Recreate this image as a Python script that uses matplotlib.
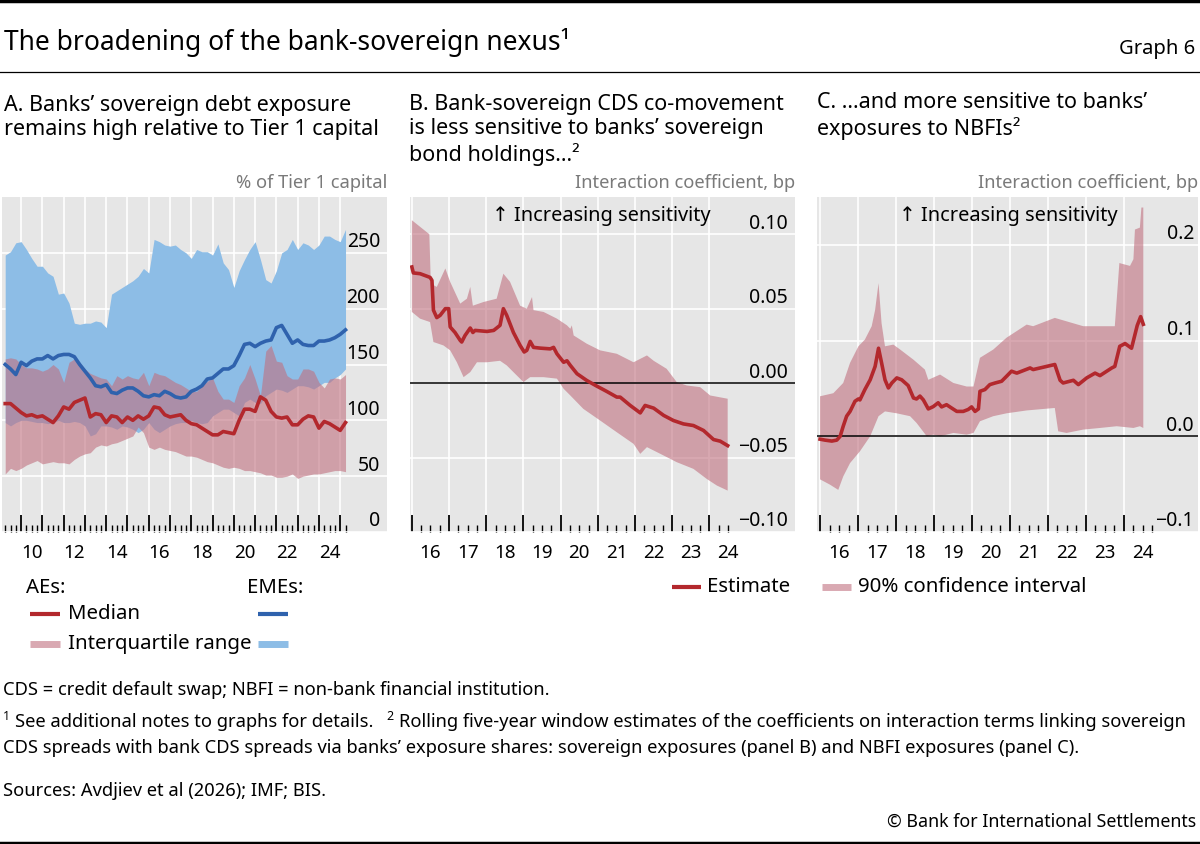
import numpy as np
import matplotlib
matplotlib.use("Agg")
import matplotlib.pyplot as plt
from matplotlib import transforms
from matplotlib.lines import Line2D

plt.rcParams['font.family'] = ['Noto Sans', 'DejaVu Sans']

# ---------------------------------------------------------------------------
# data
# ---------------------------------------------------------------------------
# panel A: quarterly, 2009Q2 .. 2025Q2 (decimal years)
a_dates = 2009.25 + 0.25 * np.arange(65)
ae_median = [115, 115, 111, 107, 104, 105, 103, 104, 101, 98, 104, 112, 110, 116, 118, 120,
             103, 106, 105, 98, 104, 103, 98, 103, 100, 104, 101, 104, 112, 111, 105, 103,
             104, 105, 100, 97, 96, 93, 90, 87, 87, 90, 89, 88, 100, 110, 110, 108,
             121, 118, 108, 103, 102, 103, 96, 96, 101, 104, 103, 93, 99, 97, 94, 91, 98]
ae_q75 = [155, 156, 155, 150, 147, 147, 146, 144, 146, 150, 146, 134, 152, 155, 152, 146,
          142, 140, 138, 137, 131, 140, 137, 140, 138, 137, 143, 131, 143, 141, 140, 137,
          134, 132, 129, 126, 126, 131, 135, 138, 126, 119, 119, 116, 131, 138, 150, 137,
          122, 162, 167, 153, 152, 140, 137, 137, 146, 146, 144, 134, 129, 137, 138, 137, 141]
ae_q25 = [52, 57, 55, 57, 60, 62, 64, 61, 62, 63, 62, 62, 61, 65, 68, 70,
          71, 76, 78, 77, 79, 80, 82, 84, 86, 94, 89, 76, 74, 76, 74, 73,
          72, 70, 68, 68, 67, 65, 63, 62, 60, 58, 57, 58, 57, 55, 55, 54,
          53, 51, 51, 49, 49, 50, 52, 48, 50, 51, 52, 52, 53, 54, 55, 55, 54]
eme_median = [150, 146, 141, 152, 149, 153, 155, 155, 158, 155, 158, 159, 159, 157, 150, 144,
              138, 131, 130, 132, 125, 124, 127, 129, 129, 126, 122, 121, 123, 122, 126, 124,
              121, 120, 121, 126, 128, 131, 137, 138, 142, 146, 146, 149, 158, 168, 169, 166,
              169, 171, 172, 183, 185, 177, 169, 172, 168, 167, 167, 171, 171, 172, 174, 177, 181]
eme_q75 = [248, 251, 259, 260, 253, 245, 238, 238, 232, 229, 213, 214, 205, 187, 186, 187,
           187, 189, 188, 183, 213, 216, 219, 222, 225, 229, 236, 232, 262, 260, 257, 256,
           257, 253, 250, 245, 253, 251, 251, 248, 258, 241, 235, 219, 234, 244, 253, 260,
           244, 226, 223, 234, 250, 253, 262, 253, 259, 257, 253, 257, 265, 265, 262, 260, 271]
eme_q25 = [98, 95, 98, 100, 100, 99, 98, 98, 97, 98, 100, 98, 98, 99, 98, 95,
           86, 88, 95, 95, 94, 92, 95, 94, 92, 89, 92, 98, 92, 89, 92, 95,
           97, 98, 98, 100, 98, 97, 98, 104, 107, 110, 110, 107, 104, 116, 119, 116,
           115, 122, 125, 128, 127, 125, 128, 131, 131, 130, 128, 131, 134, 134, 138, 141, 146]

# panel B: sovereign-exposure interaction coefficient
b_est_x = [2016.00, 2016.04, 2016.22, 2016.49, 2016.54, 2016.58, 2016.67, 2016.76, 2016.90, 2016.99,
           2017.03, 2017.16, 2017.30, 2017.34, 2017.43, 2017.57, 2017.64, 2017.70, 2018.02, 2018.20,
           2018.37, 2018.46, 2018.55, 2018.73, 2018.91, 2019.02, 2019.09, 2019.18, 2019.27, 2019.45,
           2019.72, 2019.81, 2019.90, 2020.08, 2020.17, 2020.26, 2020.44, 2020.70, 2020.97, 2021.24,
           2021.51, 2021.60, 2021.87, 2022.14, 2022.27, 2022.50, 2022.77, 2023.03, 2023.30, 2023.57,
           2023.84, 2024.11, 2024.29, 2024.49]
b_est = [0.078, 0.074, 0.0735, 0.071, 0.069, 0.049, 0.044, 0.0455, 0.050, 0.050,
         0.0377, 0.034, 0.0287, 0.0276, 0.032, 0.037, 0.034, 0.0354, 0.0347, 0.0354,
         0.0388, 0.050, 0.0455, 0.034, 0.0253, 0.0209, 0.022, 0.028, 0.024, 0.0235,
         0.023, 0.024, 0.0197, 0.014, 0.015, 0.0119, 0.0063, 0.0018, -0.002, -0.0056,
         -0.0094, -0.0094, -0.015, -0.020, -0.015, -0.0168, -0.0217, -0.0251, -0.0274, -0.0285,
         -0.0318, -0.0379, -0.039, -0.042]
b_hi_x = [2016.00, 2016.22, 2016.47, 2016.51, 2016.67, 2016.90, 2017.03, 2017.30, 2017.48, 2017.57,
          2017.64, 2017.93, 2018.28, 2018.46, 2018.64, 2018.91, 2019.09, 2019.23, 2019.27, 2019.54,
          2019.90, 2020.17, 2020.26, 2020.30, 2020.35, 2020.70, 2021.06, 2021.51, 2021.96, 2022.32,
          2022.50, 2022.85, 2023.12, 2023.39, 2023.75, 2024.02, 2024.49]
b_hi = [0.1094, 0.105, 0.100, 0.0668, 0.0646, 0.077, 0.068, 0.0534, 0.0567, 0.0646,
        0.052, 0.0545, 0.0567, 0.0735, 0.068, 0.052, 0.050, 0.0578, 0.049, 0.0478,
        0.0433, 0.0388, 0.0365, 0.0388, 0.032, 0.0265, 0.022, 0.0197, 0.014, 0.0186,
        0.015, 0.0096, 0.0007, -0.0016, -0.0027, -0.0083, -0.0105]
b_lo_x = [2016.00, 2016.22, 2016.49, 2016.58, 2016.85, 2017.03, 2017.21, 2017.39, 2017.57, 2017.75,
          2018.02, 2018.37, 2018.55, 2018.73, 2019.00, 2019.18, 2019.54, 2019.90, 2020.08, 2020.26,
          2020.61, 2021.06, 2021.51, 2021.96, 2022.14, 2022.32, 2022.68, 2023.12, 2023.57, 2023.93,
          2024.20, 2024.49]
b_lo = [0.0478, 0.0433, 0.041, 0.0276, 0.0253, 0.022, 0.014, 0.004, 0.0074, 0.014,
        0.014, 0.015, 0.0119, 0.0074, 0.0007, 0.004, 0.004, 0.003, -0.0038, -0.0083,
        -0.0173, -0.0251, -0.033, -0.0408, -0.0475, -0.043, -0.0475, -0.0531, -0.0576, -0.0644,
        -0.0688, -0.0722]

# panel C: NBFI-exposure interaction coefficient
c_est_x = [2016.00, 2016.13, 2016.31, 2016.44, 2016.53, 2016.61, 2016.70, 2016.79, 2016.92, 2017.01,
           2017.05, 2017.18, 2017.32, 2017.45, 2017.54, 2017.62, 2017.71, 2017.80, 2017.89, 2018.02,
           2018.15, 2018.32, 2018.46, 2018.54, 2018.63, 2018.72, 2018.85, 2018.98, 2019.11, 2019.20,
           2019.33, 2019.46, 2019.60, 2019.77, 2019.90, 2019.99, 2020.08, 2020.17, 2020.21, 2020.34,
           2020.47, 2020.61, 2020.78, 2020.91, 2021.04, 2021.18, 2021.53, 2021.61, 2022.18, 2022.32,
           2022.40, 2022.67, 2022.80, 2023.02, 2023.24, 2023.37, 2023.68, 2023.76, 2023.89, 2024.03,
           2024.20, 2024.35, 2024.44, 2024.51]
c_est = [-0.003, -0.004, -0.005, -0.004, 0.0, 0.0105, 0.021, 0.026, 0.0366, 0.039,
         0.038, 0.0488, 0.059, 0.073, 0.092, 0.0767, 0.059, 0.0505, 0.0557, 0.061,
         0.059, 0.053, 0.040, 0.039, 0.042, 0.038, 0.0286, 0.031, 0.035, 0.0307,
         0.033, 0.0296, 0.026, 0.026, 0.028, 0.0307, 0.026, 0.0286, 0.047, 0.0488,
         0.054, 0.0557, 0.0575, 0.0627, 0.068, 0.066, 0.0714, 0.0697, 0.075, 0.0585,
         0.0557, 0.0585, 0.054, 0.061, 0.066, 0.0634, 0.0714, 0.073, 0.094, 0.0969,
         0.092, 0.1157, 0.125, 0.117]
c_hi_x = [2016.00, 2016.35, 2016.61, 2016.79, 2017.01, 2017.18, 2017.36, 2017.45, 2017.54, 2017.62,
          2017.71, 2017.93, 2018.11, 2018.46, 2018.76, 2018.85, 2019.16, 2019.51, 2019.86, 2020.04,
          2020.21, 2020.56, 2020.91, 2021.44, 2021.61, 2022.18, 2022.93, 2023.37, 2023.76, 2023.88,
          2024.16, 2024.25, 2024.29, 2024.42, 2024.46, 2024.51]
c_hi = [0.0418, 0.045, 0.0557, 0.0767, 0.094, 0.101, 0.115, 0.132, 0.160, 0.118,
        0.094, 0.0958, 0.0906, 0.080, 0.0697, 0.059, 0.0645, 0.0557, 0.052, 0.052,
        0.082, 0.0906, 0.103, 0.1167, 0.115, 0.1237, 0.115, 0.115, 0.115, 0.181,
        0.178, 0.185, 0.216, 0.218, 0.239, 0.239]
c_lo_x = [2016.00, 2016.26, 2016.48, 2016.61, 2016.79, 2017.05, 2017.32, 2017.54, 2017.71, 2018.02,
          2018.37, 2018.54, 2018.81, 2018.98, 2019.16, 2019.51, 2019.86, 2020.04, 2020.21, 2020.56,
          2020.91, 2021.44, 2022.18, 2022.27, 2022.49, 2022.93, 2023.37, 2023.81, 2024.25, 2024.42,
          2024.51]
c_lo = [-0.045, -0.0505, -0.056, -0.042, -0.028, -0.0157, 0.0, 0.021, 0.026, 0.024,
        0.021, 0.014, 0.0, 0.0017, 0.0, 0.0035, 0.0017, 0.0035, 0.0157, 0.021,
        0.024, 0.027, 0.0296, 0.0052, 0.0035, 0.007, 0.0087, 0.0105, 0.0087, 0.0105,
        0.0087]

a_year_labels = ['10', '12', '14', '16', '18', '20', '22', '24']
bc_year_labels = ['16', '17', '18', '19', '20', '21', '22', '23', '24']

# ---------------------------------------------------------------------------
# styles
# ---------------------------------------------------------------------------
BG = '#e6e6e6'
RED = '#b3282d'
PINK = '#c0707f'
PINK_ALPHA = 0.6
BLUE = '#2f62ad'
LIGHTBLUE = '#8dbde6'
UNIT_GREY = '#7a7a7a'

W, H = 1200, 845
fig = plt.figure(figsize=(W / 100, H / 100), dpi=100)


def fx(px):
    return px / W


def fy(py):
    return 1 - py / H


def make_axes(left, right, top=198, bottom=533):
    ax = fig.add_axes([fx(left), fy(bottom), (right - left) / W, (bottom - top) / H])
    ax.set_facecolor(BG)
    for s in ax.spines.values():
        s.set_visible(False)
    ax.set_axisbelow(True)
    return ax


def style_xaxis(ax, xlim, majors, minors, label_pos, labels):
    ax.set_xlim(*xlim)
    ax.set_xticks(majors)
    ax.set_xticks(minors, minor=True)
    ax.tick_params(axis='x', which='major', direction='in', length=12, width=1.3,
                   color='black', labelbottom=False)
    ax.tick_params(axis='x', which='minor', direction='in', length=5, width=1.0,
                   color='black', labelbottom=False)
    ax.grid(True, which='major', axis='both', color='white', lw=1.2)
    sec = ax.secondary_xaxis('bottom')
    sec.set_xticks(label_pos, labels)
    sec.tick_params(length=0, pad=8, labelsize=13.5)
    for s in sec.spines.values():
        s.set_visible(False)


def right_labels(ax, vals, texts, pad_px=7):
    tr = transforms.blended_transform_factory(ax.transAxes, ax.transData) + \
        transforms.ScaledTranslation(-pad_px / 100, 6.5 / 100, fig.dpi_scale_trans)
    for v, t in zip(vals, texts):
        ax.text(1, v, t, transform=tr, ha='right', va='baseline', fontsize=14)
    ax.set_yticks(vals)
    ax.tick_params(axis='y', length=0, labelleft=False)


def unit_label(ax, text):
    ax.text(1, 1.018, text, transform=ax.transAxes, ha='right', va='bottom',
            fontsize=13.2, color=UNIT_GREY)


# ---------------------------------------------------------------------------
# panel A
# ---------------------------------------------------------------------------
axA = make_axes(2, 387)
axA.fill_between(a_dates, eme_q25, eme_q75, color=LIGHTBLUE, lw=0, zorder=1)
axA.fill_between(a_dates, ae_q25, ae_q75, color=PINK, alpha=PINK_ALPHA, lw=0, zorder=2)
axA.plot(a_dates, eme_median, color=BLUE, lw=2.6, zorder=3)
axA.plot(a_dates, ae_median, color=RED, lw=2.6, zorder=3)
axA.set_ylim(0, 300)
style_xaxis(axA, (2009.1, 2027.2), np.arange(2010, 2026), np.arange(2009.25, 2025.3, 0.25),
            np.arange(2010.5, 2025, 2), a_year_labels)
yA = [0, 50, 100, 150, 200, 250]
right_labels(axA, yA, [str(v) for v in yA])
unit_label(axA, '% of Tier 1 capital')

# ---------------------------------------------------------------------------
# panel B
# ---------------------------------------------------------------------------
axB = make_axes(410, 795)
axB.fill(np.concatenate([b_hi_x, b_lo_x[::-1]]), np.concatenate([b_hi, b_lo[::-1]]),
         color=PINK, alpha=PINK_ALPHA, lw=0, zorder=2)
axB.axhline(0, color='black', lw=1.1, zorder=2.5)
axB.plot(b_est_x, b_est, color=RED, lw=2.6, zorder=3)
axB.set_ylim(-0.10, 0.125)
style_xaxis(axB, (2015.95, 2026.3), np.arange(2016, 2025), np.arange(2016, 2024.6, 0.25),
            np.arange(2016.5, 2025, 1), bc_year_labels)
yB = [-0.10, -0.05, 0.0, 0.05, 0.10]
right_labels(axB, yB, [f'{v:.2f}'.replace('-', '\u2212') for v in yB])
unit_label(axB, 'Interaction coefficient, bp')
axB.text(0.496, 0.946, '\u2191 Increasing sensitivity', transform=axB.transAxes,
         ha='center', va='center', fontsize=14.4)

# ---------------------------------------------------------------------------
# panel C
# ---------------------------------------------------------------------------
axC = make_axes(817, 1198)
axC.fill(np.concatenate([c_hi_x, c_lo_x[::-1]]), np.concatenate([c_hi, c_lo[::-1]]),
         color=PINK, alpha=PINK_ALPHA, lw=0, zorder=2)
axC.axhline(0, color='black', lw=1.1, zorder=2.5)
axC.plot(c_est_x, c_est, color=RED, lw=2.6, zorder=3)
axC.set_ylim(-0.10, 0.25)
style_xaxis(axC, (2015.92, 2025.95), np.arange(2016, 2025), np.arange(2016, 2024.8, 0.25),
            np.arange(2016.5, 2025, 1), bc_year_labels)
yC = [-0.1, 0.0, 0.1, 0.2]
right_labels(axC, yC, [f'{v:.1f}'.replace('-', '\u2212') for v in yC], pad_px=4)
unit_label(axC, 'Interaction coefficient, bp')
axC.text(0.501, 0.946, '\u2191 Increasing sensitivity', transform=axC.transAxes,
         ha='center', va='center', fontsize=14.4)

# ---------------------------------------------------------------------------
# header, panel titles
# ---------------------------------------------------------------------------
fig.add_artist(Line2D([0, 1], [fy(1.5), fy(1.5)], color='black', lw=2.5))
fig.add_artist(Line2D([0, 1], [fy(73), fy(73)], color='black', lw=0.9))
fig.add_artist(Line2D([0, 1], [fy(843.5), fy(843.5)], color='black', lw=2.5))

fig.text(fx(4), fy(50), 'The broadening of the bank-sovereign nexus\u00b9', fontsize=19,
         ha='left', va='baseline')
fig.text(fx(1195), fy(54), 'Graph 6', fontsize=14.5, ha='right', va='baseline')

title_kw = dict(fontsize=15.5, ha='left', va='baseline', linespacing=1.2)
fig.text(fx(4), fy(135), "A. Banks\u2019 sovereign debt exposure\nremains high relative to Tier 1 capital",
         **title_kw)
fig.text(fx(409), fy(161), "B. Bank-sovereign CDS co-movement\nis less sensitive to banks\u2019 sovereign\n"
         "bond holdings...\u00b2", **title_kw)
fig.text(fx(817), fy(135), "C. ...and more sensitive to banks\u2019\nexposures to NBFIs\u00b2", **title_kw)

# ---------------------------------------------------------------------------
# legends
# ---------------------------------------------------------------------------
def swatch(x0, x1, y, color, lw, alpha=1.0):
    fig.add_artist(Line2D([fx(x0), fx(x1)], [fy(y), fy(y)], color=color, lw=lw,
                          alpha=alpha, solid_capstyle='butt'))


leg_kw = dict(fontsize=14.7, ha='left', va='center')
fig.text(fx(26), fy(588), 'AEs:', **leg_kw)
fig.text(fx(247), fy(588), 'EMEs:', **leg_kw)
swatch(30, 60, 615, RED, 3)
fig.text(fx(68), fy(614), 'Median', **leg_kw)
swatch(258, 288, 615, BLUE, 3)
swatch(30, 60, 645, PINK, 5, PINK_ALPHA)
fig.text(fx(68), fy(644), 'Interquartile range', **leg_kw)
swatch(258, 288, 645, LIGHTBLUE, 5)

swatch(672, 701, 588, RED, 3)
fig.text(fx(707), fy(587), 'Estimate', **leg_kw)
swatch(822, 851, 588, PINK, 5, PINK_ALPHA)
fig.text(fx(858), fy(587), '90% confidence interval', **leg_kw)

# ---------------------------------------------------------------------------
# notes
# ---------------------------------------------------------------------------
note_kw = dict(fontsize=13.2, ha='left', va='center')
fig.text(fx(3), fy(690), 'CDS = credit default swap; NBFI = non-bank financial institution.', **note_kw)
fig.text(fx(3), fy(717), '1', fontsize=9, ha='left', va='center')
fig.text(fx(15), fy(722), 'See additional notes to graphs for details.', **note_kw)
fig.text(fx(386), fy(717), '2', fontsize=9, ha='left', va='center')
fig.text(fx(399), fy(722), 'Rolling five-year window estimates of the coefficients on interaction '
         'terms linking sovereign', **note_kw)
fig.text(fx(3), fy(748), 'CDS spreads with bank CDS spreads via banks\u2019 exposure shares: sovereign '
         'exposures (panel B) and NBFI exposures (panel C).', **note_kw)
fig.text(fx(3), fy(791), 'Sources: Avdjiev et al (2026); IMF; BIS.', **note_kw)
fig.text(fx(1196), fy(822), '\u00a9 Bank for International Settlements', fontsize=12.8,
         ha='right', va='center')

fig.savefig('out.png', dpi=100)
